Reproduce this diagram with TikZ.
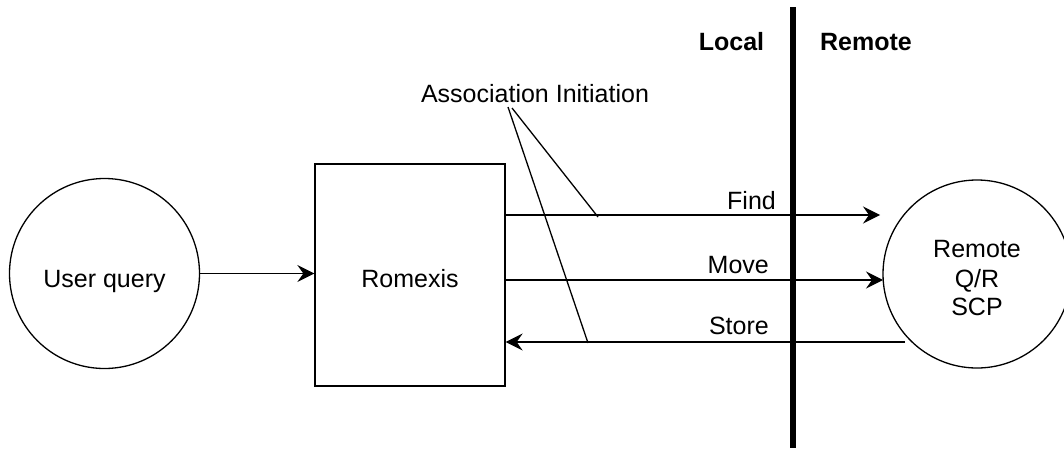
\documentclass[tikz,border=0pt]{standalone}
\usepackage{fontspec}
\setmainfont{Liberation Sans}
\usetikzlibrary{arrows.meta}
\begin{document}
\begin{tikzpicture}[x=1pt,y=-1pt,
  ln/.style={line width=1.3pt},
  arr/.style={ln,-{Stealth[length=17pt,width=17pt,inset=6pt]}},
  lbl/.style={inner sep=0pt},
  every node/.style={font=\fontsize{25pt}{29pt}\selectfont}]
\useasboundingbox (0,0) rectangle (1064,450);
% shapes
\node[circle, draw, ln, minimum size=190pt, inner sep=0pt] (uq) at (104.5,273.5) {};
\node[draw, ln, minimum width=190pt, minimum height=222pt, inner sep=0pt] (rx) at (410,275) {};
\node[circle, draw, ln, minimum size=188pt, inner sep=0pt] (rem) at (977,274) {};
% texts in shapes
\node[lbl, anchor=base] (uqt) at (104.5,287) {User query};
\node[lbl, anchor=base] (rxt) at (410,287) {Romexis};
\node[lbl, anchor=base] (remt1) at (977,257) {Remote};
\node[lbl, anchor=base] (remt2) at (977,287) {Q/R};
\node[lbl, anchor=base] (remt3) at (977,315) {SCP};
% divider
\coordinate (dtop) at (793,7);
\coordinate (dbot) at (793,448);
\draw[line width=6pt] (dtop) -- (dbot);
\node[lbl, anchor=base, font=\bfseries\fontsize{25pt}{29pt}\selectfont] (local) at (731.5,50) {Local};
\node[lbl, anchor=base, font=\bfseries\fontsize{25pt}{29pt}\selectfont] (remote) at (866,50) {Remote};
% connectors
\draw[arr] (uq.east) -- (uq.east -| rx.west);
\coordinate (findEnd) at (880,215);
\coordinate (moveEnd) at (883,280);
\coordinate (storeStart) at (905,342);
\draw[arr] (rx.east |- findEnd) -- (findEnd);
\draw[arr] (rx.east |- moveEnd) -- (moveEnd);
\draw[arr] (storeStart) -- (rx.east |- storeStart);
% labels
\node[lbl, anchor=base east] (lfind) at (776,209) {Find};
\node[lbl, anchor=base east] (lmove) at (769,273) {Move};
\node[lbl, anchor=base east] (lstore) at (769,334) {Store};
% association initiation
\node[lbl, anchor=base] (ai) at (535,102) {Association Initiation};
\coordinate (a1) at (508,107);
\coordinate (a2) at (512,108);
\coordinate (ta) at (588,343);
\coordinate (tb) at (598,217);
\draw[ln] (a1) -- (ta);
\draw[ln] (a2) -- (tb);
\end{tikzpicture}
\end{document}
